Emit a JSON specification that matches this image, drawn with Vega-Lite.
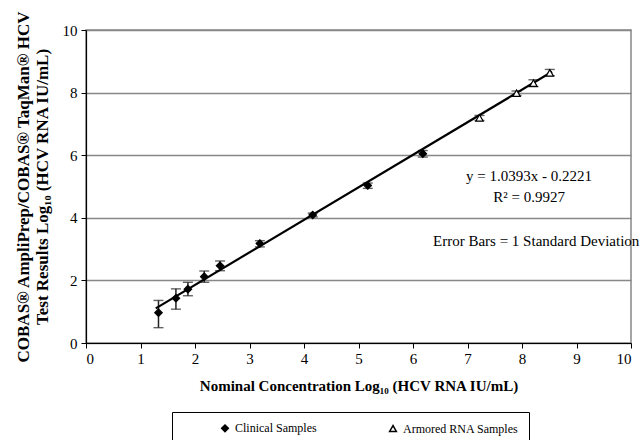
{
  "$schema": "https://vega.github.io/schema/vega-lite/v6.json",
  "width": 545,
  "height": 313,
  "autosize": {"type": "none"},
  "padding": {"left": 86, "top": 30, "right": 12, "bottom": 97},
  "background": "white",
  "config": {
    "font": "Liberation Serif",
    "view": {"stroke": "#888", "strokeWidth": 1.5},
    "axis": {"labelFont": "Liberation Serif", "titleFont": "Liberation Serif", "labelColor": "black", "titleColor": "black", "domainColor": "black", "tickColor": "black", "labelFontSize": 15, "domainWidth": 1.2}
  },
  "datasets": {
    "pts": [
      {"x": 1.33, "y": 0.97, "lo": 0.49, "hi": 1.36, "series": "Clinical Samples"},
      {"x": 1.65, "y": 1.43, "lo": 1.08, "hi": 1.73, "series": "Clinical Samples"},
      {"x": 1.87, "y": 1.72, "lo": 1.51, "hi": 1.94, "series": "Clinical Samples"},
      {"x": 2.17, "y": 2.12, "lo": 1.94, "hi": 2.30, "series": "Clinical Samples"},
      {"x": 2.46, "y": 2.47, "lo": 2.31, "hi": 2.62, "series": "Clinical Samples"},
      {"x": 3.19, "y": 3.18, "lo": 3.07, "hi": 3.27, "series": "Clinical Samples"},
      {"x": 4.16, "y": 4.09, "lo": 4.03, "hi": 4.15, "series": "Clinical Samples"},
      {"x": 5.17, "y": 5.03, "lo": 4.94, "hi": 5.11, "series": "Clinical Samples"},
      {"x": 6.18, "y": 6.05, "lo": 5.94, "hi": 6.15, "series": "Clinical Samples"},
      {"x": 7.22, "y": 7.19, "lo": 7.11, "hi": 7.27, "series": "Armored RNA Samples"},
      {"x": 7.9, "y": 7.98, "lo": 7.91, "hi": 8.05, "series": "Armored RNA Samples"},
      {"x": 8.21, "y": 8.3, "lo": 8.19, "hi": 8.41, "series": "Armored RNA Samples"},
      {"x": 8.51, "y": 8.63, "lo": 8.54, "hi": 8.74, "series": "Armored RNA Samples"}
    ],
    "fit": [
      {"x": 1.28, "y": 1.108},
      {"x": 8.55, "y": 8.664}
    ],
    "notes": [
      {"x": 8.13, "y": 5.34, "label": "y = 1.0393x - 0.2221"},
      {"x": 8.13, "y": 4.66, "label": "R² = 0.9927"},
      {"x": 8.26, "y": 3.26, "label": "Error Bars = 1 Standard Deviation"}
    ]
  },
  "layer": [
    {
      "data": {"name": "pts"},
      "mark": {"type": "errorbar", "ticks": {"size": 10, "color": "#222", "thickness": 1.4}, "rule": {"color": "#222", "strokeWidth": 1.5}},
      "encoding": {
        "x": {"field": "x", "type": "quantitative", "scale": {"domain": [0, 10], "nice": false},
          "axis": {"values": [0,1,2,3,4,5,6,7,8,9,10], "grid": false, "tickSize": 5, "labelPadding": 3, "labelFontSize": 15, "title": "Nominal Concentration Log₁₀ (HCV RNA IU/mL)", "titleFontSize": 15, "titleFontWeight": "bold", "titlePadding": 12}},
        "y": {"field": "lo", "type": "quantitative", "scale": {"domain": [0, 10], "nice": false},
          "axis": {"values": [0,2,4,6,8,10], "grid": true, "gridColor": "#888", "gridWidth": 1.5, "gridOpacity": 1, "tickSize": 5, "labelPadding": 4, "labelFontSize": 15, "title": ["COBAS® AmpliPrep/COBAS® TaqMan® HCV", "Test Results Log₁₀ (HCV RNA IU/mL)"], "titleFontSize": 17, "titleFontWeight": "bold", "titlePadding": 11, "titleLineHeight": 19}},
        "y2": {"field": "hi"}
      }
    },
    {
      "data": {"name": "fit"},
      "mark": {"type": "line", "color": "black", "strokeWidth": 2.2},
      "encoding": {
        "x": {"field": "x", "type": "quantitative"},
        "y": {"field": "y", "type": "quantitative"}
      }
    },
    {
      "data": {"name": "pts"},
      "mark": {"type": "point", "filled": true, "strokeWidth": 1.2, "size": 55, "opacity": 1},
      "encoding": {
        "x": {"field": "x", "type": "quantitative"},
        "y": {"field": "y", "type": "quantitative"},
        "stroke": {"value": "black"},
        "shape": {"field": "series", "type": "nominal", "scale": {"domain": ["Clinical Samples", "Armored RNA Samples"], "range": ["diamond", "triangle-up"]},
          "legend": {"title": null, "orient": "none", "legendX": 86, "legendY": 382, "direction": "horizontal", "strokeColor": "black", "padding": 10, "symbolOffset": 37, "columnPadding": 33, "labelFontSize": 12, "labelFont": "Liberation Serif", "labelColor": "black", "symbolSize": 45, "labelOffset": 4,
            "encode": {"symbols": {"update": {"stroke": {"value": "black"}, "strokeWidth": {"value": 1.2}, "opacity": {"value": 1}}}}}},
        "fill": {"field": "series", "type": "nominal", "scale": {"domain": ["Clinical Samples", "Armored RNA Samples"], "range": ["black", "white"]},
          "legend": {"title": null, "orient": "none", "legendX": 86, "legendY": 382, "direction": "horizontal", "strokeColor": "black", "padding": 10, "symbolOffset": 37, "columnPadding": 33, "labelFontSize": 12, "labelFont": "Liberation Serif", "labelColor": "black", "symbolSize": 45, "labelOffset": 4,
            "encode": {"symbols": {"update": {"stroke": {"value": "black"}, "strokeWidth": {"value": 1.2}, "opacity": {"value": 1}}}}}}
      }
    },
    {
      "data": {"name": "notes"},
      "mark": {"type": "text", "font": "Liberation Serif", "fontSize": 15, "color": "black", "align": "center", "baseline": "middle"},
      "encoding": {
        "x": {"field": "x", "type": "quantitative"},
        "y": {"field": "y", "type": "quantitative"},
        "text": {"field": "label"}
      }
    }
  ]
}
